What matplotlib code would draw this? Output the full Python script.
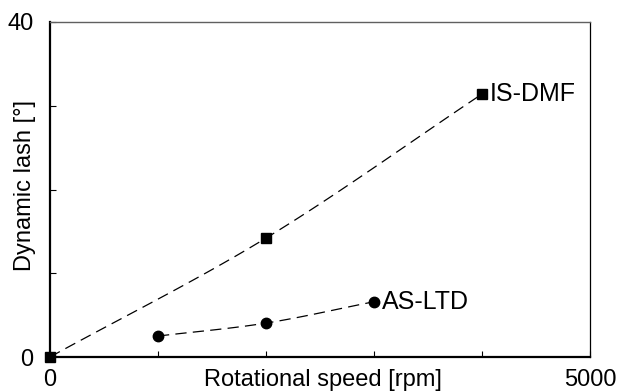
import numpy as np
import matplotlib
matplotlib.use("Agg")
import matplotlib.pyplot as plt

plt.rcParams['font.family'] = ['Liberation Sans', 'DejaVu Sans']

# data
speed_dmf = [0, 2000, 4000]
lash_dmf = [0, 14.2, 31.4]
speed_ltd = [1000, 2000, 3000]
lash_ltd = [2.5, 4.05, 6.6]


def smooth(x, y, n=30):
    # catmull-rom through the points, like the spreadsheet "smoothed line"
    x = np.asarray(x, float)
    y = np.asarray(y, float)
    px = np.concatenate([[2 * x[0] - x[1]], x, [2 * x[-1] - x[-2]]])
    py = np.concatenate([[2 * y[0] - y[1]], y, [2 * y[-1] - y[-2]]])
    xs, ys = [], []
    t = np.linspace(0, 1, n)
    for i in range(1, len(px) - 2):
        for p, out in ((px, xs), (py, ys)):
            p0, p1, p2, p3 = p[i - 1], p[i], p[i + 1], p[i + 2]
            out.extend(0.5 * (2 * p1 + (-p0 + p2) * t
                              + (2 * p0 - 5 * p1 + 4 * p2 - p3) * t ** 2
                              + (-p0 + 3 * p1 - 3 * p2 + p3) * t ** 3))
    return xs, ys


fs = 17

fig = plt.figure(figsize=(6.19, 3.92), dpi=100)
ax = fig.add_axes([50 / 619, 35 / 392, 540 / 619, 335 / 392])

sx, sy = smooth(speed_dmf, lash_dmf)
ax.plot(sx, sy, color='black', lw=0.9, dashes=(9, 5))
ax.plot(speed_dmf, lash_dmf, 's', color='black', ms=7.5, clip_on=False)
sx, sy = smooth(speed_ltd, lash_ltd)
ax.plot(sx, sy, color='black', lw=0.9, dashes=(9, 5))
ax.plot(speed_ltd, lash_ltd, 'o', color='black', ms=7.5)

ax.text(speed_dmf[-1] + 70, lash_dmf[-1], 'IS-DMF', fontsize=fs + 1, va='center', ha='left')
ax.text(speed_ltd[-1] + 70, lash_ltd[-1], 'AS-LTD', fontsize=fs + 1, va='center', ha='left')

ax.set_xlim(0, 5000)
ax.set_ylim(0, 40)
ax.set_xticks(range(0, 5001, 1000))
ax.set_xticklabels(['0', '', '', '', '', '5000'])
ax.set_yticks(range(0, 41, 10))
ax.set_yticklabels(['0', '', '', '', '40'])
ax.tick_params(direction='in', length=4, width=0.8, labelsize=fs)
ax.tick_params(axis='x', pad=9)
ax.tick_params(axis='y', pad=12)

ax.spines['left'].set_linewidth(1.6)
ax.spines['bottom'].set_linewidth(1.6)
ax.spines['top'].set_linewidth(1.0)
ax.spines['top'].set_color('#606060')
ax.spines['right'].set_linewidth(0.9)

ax.text(-0.046, 0.513, 'Dynamic lash [°]', transform=ax.transAxes, rotation=90,
        fontsize=fs, ha='center', va='center')
ax.text(0.506, -0.068, 'Rotational speed [rpm]', transform=ax.transAxes,
        fontsize=fs, ha='center', va='center')

fig.savefig('out.png', dpi=100)
